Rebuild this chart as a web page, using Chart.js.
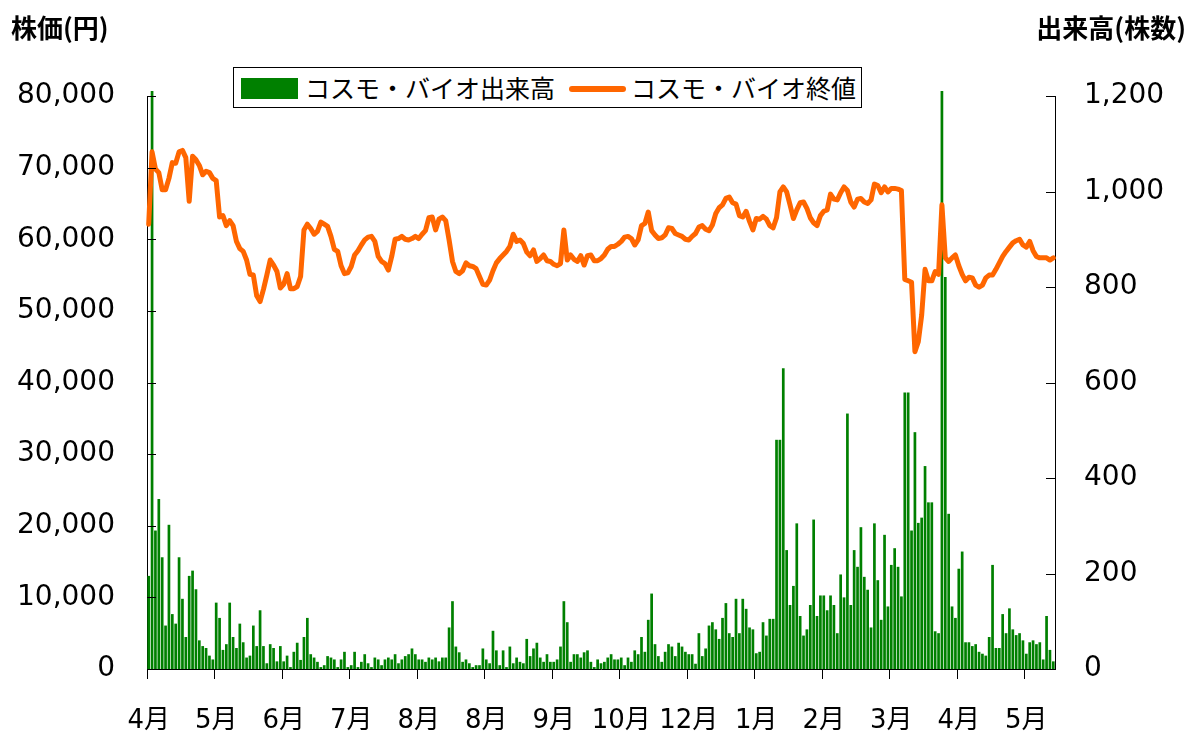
<!DOCTYPE html>
<html>
<head>
<meta charset="utf-8">
<script src="https://cdn.jsdelivr.net/npm/chart.js@4.4.1/dist/chart.umd.min.js"></script>
<style>
  html, body { margin: 0; padding: 0; background: #fff; }
  #wrap { position: relative; width: 1189px; height: 737px; overflow: hidden; }
  #chart { position: absolute; left: 0; top: 0; }
  .axisTitle { position: absolute; top: 12px; font-family: "Noto Sans CJK JP", sans-serif; font-weight: bold; font-size: 26px; line-height: 30px; color: #000; white-space: nowrap; }
  #legend { position: absolute; left: 233px; top: 67px; width: 627px; height: 39px; border: 1px solid #000; background: #fff;
            font-family: "Noto Sans CJK JP", sans-serif; font-size: 25px; color: #000; }
  #legend .sw { position: absolute; left: 7px; top: 10px; width: 57px; height: 21px; background: #008000; }
  #legend .ln { position: absolute; left: 335px; top: 18px; width: 57px; height: 6px; background: #FF6600; border-radius: 3px; }
  #legend .tx { position: absolute; top: 3px; line-height: 32px; white-space: nowrap; }
</style>
</head>
<body>
<div id="wrap">
  <canvas id="chart" width="1189" height="737"></canvas>
  <div class="axisTitle" style="left:11px;">株価(円)</div>
  <div class="axisTitle" style="right:3px;">出来高(株数)</div>
  <div id="legend">
    <div class="sw"></div><div class="tx" style="left:71px;">コスモ・バイオ出来高</div>
    <div class="ln"></div><div class="tx" style="left:397px;">コスモ・バイオ終値</div>
  </div>
</div>
<script>
// Month labels shown every 20 trading days
const tickLabels = ['4月','5月','6月','7月','8月','8月','9月','10月','12月','1月','2月','3月','4月','5月'];
const tickEvery = 20;

// Daily volume (shares) – right axis
const volume = [
  195, 1300, 290, 356, 234, 91, 302, 115, 95, 234, 147, 67, 195, 206, 167, 60, 48, 44, 28, 20,
  139, 107, 40, 52, 139, 67, 44, 95, 56, 24, 28, 91, 48, 123, 48, 12, 52, 44, 16, 48,
  16, 28, 4, 36, 55, 19, 67, 107, 31, 24, 15, 4, 8, 27, 24, 20, 4, 20, 36, 4,
  8, 36, 4, 15, 31, 12, 4, 24, 20, 8, 20, 24, 20, 31, 12, 20, 27, 31, 43, 31,
  20, 20, 15, 24, 20, 24, 16, 24, 24, 87, 142, 47, 35, 15, 20, 12, 4, 8, 8, 43,
  20, 12, 80, 39, 8, 39, 4, 47, 12, 24, 15, 12, 63, 27, 43, 55, 24, 15, 31, 15,
  15, 20, 47, 142, 98, 15, 31, 31, 24, 35, 39, 15, 4, 20, 12, 15, 24, 31, 20, 20,
  24, 8, 24, 15, 39, 31, 67, 36, 103, 158, 52, 27, 15, 36, 52, 47, 27, 55, 47, 36,
  31, 31, 11, 75, 27, 43, 91, 98, 83, 63, 107, 138, 75, 67, 147, 75, 147, 126, 87, 83,
  33, 36, 98, 70, 105, 105, 480, 480, 630, 249, 134, 174, 305, 111, 70, 83, 134, 313, 111, 154,
  154, 123, 154, 134, 75, 198, 150, 535, 134, 249, 214, 297, 193, 166, 87, 305, 186, 103, 281, 131,
  218, 253, 214, 152, 579, 579, 290, 496, 306, 317, 425, 349, 349, 79, 75, 1300, 821, 325, 131, 107,
  210, 246, 56, 56, 48, 52, 36, 32, 28, 67, 218, 44, 44, 115, 75, 127, 83, 71, 75, 60,
  32, 56, 60, 52, 56, 20, 111, 40, 16
];

// Daily closing price (yen) – left axis
const price = [
  62100, 72200, 69800, 69300, 66900, 66900, 68500, 70700, 70600, 72200, 72400, 71400, 65300, 71600, 71100, 70300, 69000, 69500, 69300, 68500,
  68200, 63100, 63300, 61900, 62600, 61900, 59700, 58700, 58300, 57100, 55100, 55000, 52100, 51300, 53000, 55000, 57100, 56400, 55500, 53200,
  53700, 55200, 53100, 53100, 53400, 54800, 61300, 62100, 61500, 60700, 61100, 62400, 62100, 61800, 60400, 58600, 58300, 56300, 55200, 55300,
  56200, 57800, 58400, 59200, 59900, 60300, 60400, 59700, 57600, 56900, 56600, 55700, 57600, 60000, 60100, 60400, 60000, 59900, 60100, 60400,
  60100, 60700, 61200, 63000, 63100, 61300, 62800, 63100, 62600, 59900, 56900, 55500, 55200, 55600, 56700, 56300, 56200, 55900, 54800, 53700,
  53600, 54300, 55600, 56700, 57300, 57800, 58300, 59000, 60700, 59700, 59900, 59400, 58200, 57700, 58500, 56900, 57300, 57800, 57000, 56900,
  56500, 56300, 56600, 61300, 57100, 57800, 57200, 56900, 57700, 56400, 57700, 57800, 57000, 57000, 57300, 57800, 58600, 59000, 59000, 59300,
  59700, 60300, 60400, 60100, 59200, 59900, 61900, 62200, 63800, 61200, 60600, 60100, 60200, 60600, 61600, 61500, 60800, 60600, 60400, 60000,
  59900, 60400, 60800, 61700, 61900, 61400, 61200, 62000, 63600, 64400, 64800, 65700, 65900, 65100, 64900, 63300, 63100, 63900, 62500, 61300,
  62900, 62800, 63200, 62800, 61900, 61600, 63000, 66600, 67300, 66600, 64800, 62900, 64100, 65100, 65200, 64300, 63000, 62300, 61900, 63300,
  63900, 64100, 66300, 65600, 65500, 66500, 67300, 66800, 65200, 64500, 65600, 65700, 65200, 65000, 65500, 67700, 67500, 66500, 67300, 66600,
  67100, 67100, 67000, 66800, 54400, 54200, 54000, 44300, 45700, 49400, 55800, 54200, 54200, 55500, 55100, 64800, 57400, 56900, 57400, 57800,
  56300, 55100, 54200, 54700, 54600, 53600, 53300, 53600, 54600, 55000, 55000, 55800, 56700, 57600, 58300, 58900, 59500, 59800, 60000, 59200,
  58900, 59700, 58400, 57600, 57400, 57400, 57400, 57100, 57400
];

const priceAxis = { min: 0, max: 80000, step: 10000 };
const volumeAxis = { min: 0, max: 1200, step: 200 };

const categories = volume.map((_, i) => i);

const inwardTicks = {
  id: 'inwardTicks',
  afterDraw(chart) {
    const { ctx, chartArea } = chart;
    ctx.save();
    ctx.strokeStyle = '#000';
    ctx.lineWidth = 1;
    const L = chart.scales.y, R = chart.scales.y1;
    L.ticks.forEach(t => {
      const p = Math.round(L.getPixelForValue(t.value)) + 0.5;
      ctx.beginPath(); ctx.moveTo(chartArea.left, p); ctx.lineTo(chartArea.left + 9, p); ctx.stroke();
    });
    R.ticks.forEach(t => {
      const p = Math.round(R.getPixelForValue(t.value)) + 0.5;
      ctx.beginPath(); ctx.moveTo(chartArea.right, p); ctx.lineTo(chartArea.right - 9, p); ctx.stroke();
    });
    ctx.restore();
  }
};

const fmt = v => Number(v).toLocaleString('en-US');
const numFont = { family: '"DejaVu Sans", sans-serif', size: 28 };

new Chart(document.getElementById('chart'), {
  type: 'bar',
  data: {
    labels: categories,
    datasets: [
      {
        type: 'line', label: 'コスモ・バイオ終値', data: price, yAxisID: 'y',
        borderColor: '#FF6600', borderWidth: 5, pointRadius: 0, tension: 0,
        borderJoinStyle: 'round', borderCapStyle: 'round', order: 0
      },
      {
        type: 'bar', label: 'コスモ・バイオ出来高', data: volume, yAxisID: 'y1',
        backgroundColor: '#008000', barPercentage: 0.8, categoryPercentage: 1.0, order: 1,
        clip: { left: 0, top: 5, right: 0, bottom: 0 }
      }
    ]
  },
  options: {
    responsive: false,
    animation: false,
    devicePixelRatio: 1,
    layout: { padding: { top: 96, left: 0, right: 0, bottom: 0 } },
    plugins: { legend: { display: false }, tooltip: { enabled: false } },
    scales: {
      x: {
        type: 'category',
        offset: true,
        grid: {
          display: true, drawOnChartArea: false, drawTicks: true, tickLength: 10, offset: true,
          color: c => (c.index % tickEvery === 0 ? '#000' : 'rgba(0,0,0,0)')
        },
        border: { display: true, color: '#000', width: 1 },
        ticks: {
          autoSkip: false, maxRotation: 0, minRotation: 0, padding: 27, color: '#000',
          font: { family: '"DejaVu Sans", "Noto Sans CJK JP", sans-serif', size: 26 },
          callback: (v, i) => (i % tickEvery === 0 ? tickLabels[i / tickEvery] : '')
        },
        afterFit: s => { s.height = 68; }
      },
      y: {
        position: 'left',
        min: priceAxis.min, max: priceAxis.max,
        grid: { display: false },
        border: { display: true, color: '#000', width: 1 },
        ticks: { stepSize: priceAxis.step, padding: 24, color: '#000', font: numFont, callback: fmt },
        afterFit: s => { s.width = 147; }
      },
      y1: {
        position: 'right',
        min: volumeAxis.min, max: volumeAxis.max,
        grid: { display: false },
        border: { display: true, color: '#000', width: 1 },
        ticks: { stepSize: volumeAxis.step, padding: 21, color: '#000', font: numFont, callback: fmt },
        afterFit: s => { s.width = 134; }
      }
    }
  },
  plugins: [inwardTicks]
});
</script>
</body>
</html>
